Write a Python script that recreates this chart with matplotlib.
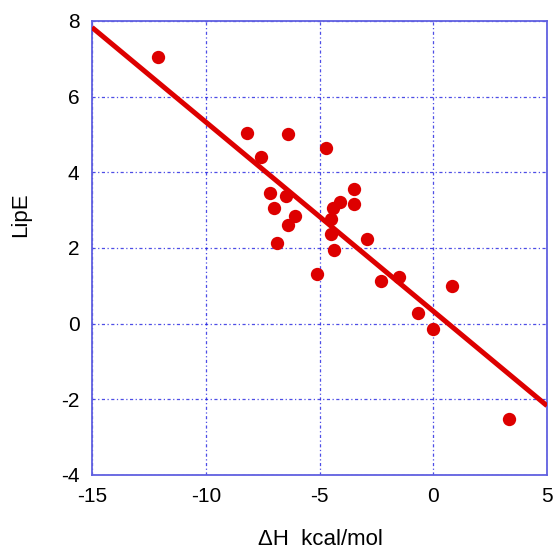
import matplotlib
matplotlib.use("Agg")
import matplotlib.pyplot as plt
import numpy as np

# data
dH = [-12.09, -8.20, -6.38, -7.58, -4.70, -7.19, -6.49, -6.99, -6.06, -6.38,
      -6.88, -3.50, -4.10, -3.50, -4.39, -4.49, -4.51, -2.90, -4.38, -5.10,
      -2.30, -1.49, -0.69, 0.81, 0.00, 3.32]
lipe = [7.06, 5.05, 5.01, 4.41, 4.64, 3.45, 3.38, 3.06, 2.84, 2.62,
        2.14, 3.55, 3.22, 3.16, 3.06, 2.76, 2.38, 2.24, 1.95, 1.31,
        1.13, 1.24, 0.29, 1.00, -0.13, -2.53]
fit_x = [-15, 5]
fit_slope = -0.5
fit_icpt = 0.33

plt.rcParams['font.family'] = ['Liberation Sans', 'DejaVu Sans']

fig = plt.figure(figsize=(5.53, 5.52), dpi=100)
ax = fig.add_axes([0.1664, 0.1395, 0.8228, 0.8225])

fx = np.array(fit_x)
ax.plot(fx, fit_slope * fx + fit_icpt, color='#dd0000', lw=3.6, zorder=3,
        solid_capstyle='butt')
ax.scatter(dH, lipe, s=92, color='#dd0000', zorder=4, linewidths=0)

ax.set_xlim(-15, 5)
ax.set_ylim(-4, 8)
ax.set_xticks([-15, -10, -5, 0, 5])
ax.set_yticks([-4, -2, 0, 2, 4, 6, 8])
ax.set_xticklabels(['-15', '-10', '-5', '0', '5'])
ax.set_yticklabels(['-4', '-2', '0', '2', '4', '6', '8'])

ax.grid(True, color='#2020e0', lw=0.9, dashes=(2.5, 2, 1, 2), alpha=0.8)
for s in ax.spines.values():
    s.set_color('#6060e0')
    s.set_linewidth(1.3)
ax.tick_params(length=0, labelsize=15, pad=9, colors='black')

ax.set_xlabel('ΔH  kcal/mol', fontsize=16, va='center')
ax.set_ylabel('LipE', fontsize=16, va='center')
ax.xaxis.set_label_coords(0.503, -0.141)
ax.yaxis.set_label_coords(-0.156, 0.573)

fig.savefig('out.png', dpi=100)
